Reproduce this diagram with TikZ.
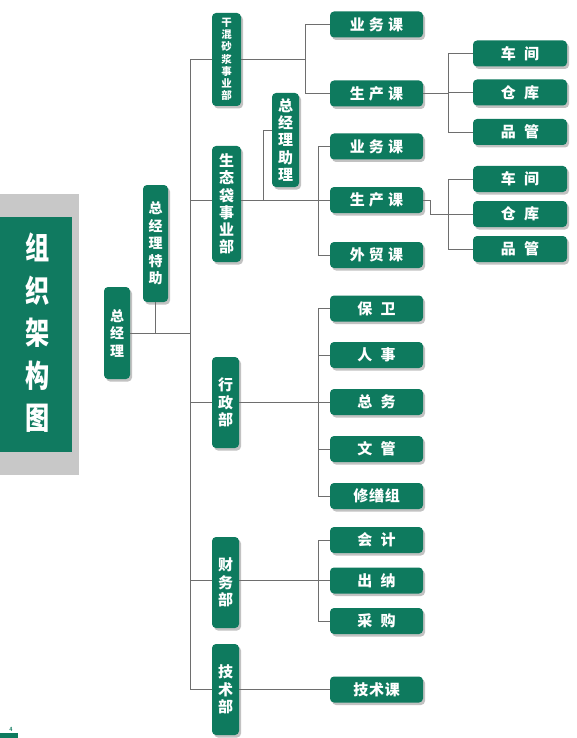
\documentclass[tikz,border=0pt]{standalone}
\usepackage{fontspec}
\newfontfamily\cjk{Noto Sans CJK SC}
\usetikzlibrary{shadows}
\definecolor{gr}{RGB}{14,122,94}
\definecolor{ttl}{RGB}{16,122,96}
\definecolor{ln}{RGB}{110,110,110}
\definecolor{gbox}{RGB}{200,200,200}
\newcommand\tc[1]{\scalebox{0.78}[1]{#1}}
\begin{document}
\begin{tikzpicture}[x=1pt,y=-1pt,
 box/.style={fill=gr,text=white,rounded corners=4pt,inner sep=0pt,align=center,
   drop shadow={shadow xshift=2pt,shadow yshift=-2.5pt,fill=black!40,opacity=0.6}},
 hbox/.style={box,minimum width=93pt,minimum height=26pt,font=\cjk\bfseries\fontsize{15}{16}\selectfont},
 rbox/.style={hbox,minimum width=94pt},
 vbox/.style={box,minimum width=27pt,font=\cjk\bfseries\fontsize{14}{17.5}\selectfont},
 conn/.style={draw=ln,line width=0.7pt}]
\useasboundingbox (0,0) rectangle (577,738);
% title block
\fill[gbox] (0,194) rectangle (79,475);
\fill[ttl] (0,217) rectangle (72,452);
\node[text=white,font=\cjk\bfseries\fontsize{31}{42.5}\selectfont,align=center,inner sep=0pt] (title) at (38,333)
  {\tc{组}\\\tc{织}\\\tc{架}\\\tc{构}\\\tc{图}};
% page mark
\fill[gr] (0,733) rectangle (18,738);
\node[text=gr,font=\sffamily\bfseries\fontsize{6}{6}\selectfont,inner sep=0pt] (pgno) at (11,729) {4};

% coordinates of buses
\coordinate (bus) at (190,0);
\coordinate (b1) at (305,0);
\coordinate (b2) at (318,0);
\coordinate (b3) at (448,0);
\coordinate (b4) at (430,0);

% left nodes
\node[vbox,minimum width=26pt,minimum height=92pt] (zjl) at (117,333) {总\\经\\理};
\node[vbox,minimum width=25pt,minimum height=117pt] (tz) at (155.5,243.5) {总\\经\\理\\特\\助};

% departments
\node[vbox,minimum width=29pt,minimum height=93pt,font=\cjk\bfseries\fontsize{10.5}{12.2}\selectfont] (gh) at (226.5,59.5) {干\\混\\砂\\浆\\事\\业\\部};
\node[vbox,minimum width=29pt,minimum height=116pt,font=\cjk\bfseries\fontsize{15}{17.2}\selectfont] (st) at (226.5,204) {生\\态\\袋\\事\\业\\部};
\node[vbox,minimum width=27pt,minimum height=94pt,font=\cjk\bfseries\fontsize{15}{17.3}\selectfont] (zl) at (285.5,140) {总\\经\\理\\助\\理};
\node[vbox,minimum height=91pt,font=\cjk\bfseries\fontsize{15}{17.5}\selectfont] (xz) at (225.5,402.5) {行\\政\\部};
\node[vbox,minimum height=91pt,font=\cjk\bfseries\fontsize{15}{17.5}\selectfont] (cw) at (225.5,582.5) {财\\务\\部};
\node[vbox,minimum height=91pt,font=\cjk\bfseries\fontsize{15}{17.5}\selectfont] (js) at (225.5,689.5) {技\\术\\部};

% sections
\node[hbox] (yw1) at (376.5,24.5) {业\hspace{0.28em}务\hspace{0.28em}课};
\node[hbox] (sc1) at (376.5,93.5) {生\hspace{0.28em}产\hspace{0.28em}课};
\node[hbox] (yw2) at (376.5,146.5) {业\hspace{0.28em}务\hspace{0.28em}课};
\node[hbox] (sc2) at (376.5,200) {生\hspace{0.28em}产\hspace{0.28em}课};
\node[hbox] (wm) at (376.5,255) {外\hspace{0.28em}贸\hspace{0.28em}课};
\node[hbox] (bw) at (376.5,308.5) {保\hspace{0.55em}卫};
\node[hbox] (rs) at (376.5,355) {人\hspace{0.55em}事};
\node[hbox] (zw) at (376.5,402) {总\hspace{0.55em}务};
\node[hbox] (wg) at (376.5,449) {文\hspace{0.55em}管};
\node[hbox] (xs) at (376.5,496) {修\hspace{0.05em}缮\hspace{0.05em}组};
\node[hbox] (kj) at (376.5,540) {会\hspace{0.55em}计};
\node[hbox] (cn) at (376.5,580.5) {出\hspace{0.55em}纳};
\node[hbox] (cg) at (376.5,621) {采\hspace{0.55em}购};
\node[hbox] (jsk) at (376.5,689.5) {技\hspace{0.05em}术\hspace{0.05em}课};

% right nodes
\node[rbox] (cj1) at (520,53.5) {车\hspace{0.55em}间};
\node[rbox] (ck1) at (520,92.5) {仓\hspace{0.55em}库};
\node[rbox] (pg1) at (520,132) {品\hspace{0.55em}管};
\node[rbox] (cj2) at (520,179) {车\hspace{0.55em}间};
\node[rbox] (ck2) at (520,214) {仓\hspace{0.55em}库};
\node[rbox] (pg2) at (520,249) {品\hspace{0.55em}管};

% connectors
\begin{scope}[conn]
\draw (gh.west) -- (bus |- gh.west) -- (bus |- jsk.west) -- (js.west |- jsk.west);
\draw (zjl.east) -- (bus |- zjl.east);
\draw (tz.south) -- (tz.south |- zjl.east);
\draw (st.west |- sc2.west) -- (bus |- sc2.west);
\draw (xz.west |- zw.west) -- (bus |- zw.west);
\draw (cw.west |- cn.west) -- (bus |- cn.west);
% dry-mix
\draw (gh.east |- gh.west) -- (b1 |- gh.west);
\draw (yw1.west) -- (b1 |- yw1.west) -- (b1 |- sc1.west) -- (sc1.west);
\draw (sc1.east) -- (b3 |- sc1.east);
\draw (cj1.west) -- (b3 |- cj1.west) -- (b3 |- pg1.west) -- (pg1.west);
\draw (ck1.west) -- (b3 |- ck1.west);
% eco bag
\draw (st.east |- sc2.west) -- (sc2.west);
\coordinate (zlj) at (263,200);
\draw (zlj) -- (zlj |- 0,130) -- (zl.west |- 0,130);
\draw (yw2.west) -- (b2 |- yw2.west) -- (b2 |- wm.west) -- (wm.west);
\draw (sc2.east) -- (b4 |- sc2.east) -- (b4 |- ck2.west) -- (ck2.west);
\draw (cj2.west) -- (b3 |- cj2.west) -- (b3 |- pg2.west) -- (pg2.west);
% admin
\draw (xz.east |- zw.west) -- (zw.west);
\draw (bw.west) -- (b2 |- bw.west) -- (b2 |- xs.west) -- (xs.west);
\draw (rs.west) -- (b2 |- rs.west);
\draw (wg.west) -- (b2 |- wg.west);
% finance
\draw (cw.east |- cn.west) -- (cn.west);
\draw (kj.west) -- (b2 |- kj.west) -- (b2 |- cg.west) -- (cg.west);
% tech
\draw (js.east |- jsk.west) -- (jsk.west);
\end{scope}
\end{tikzpicture}
\end{document}
